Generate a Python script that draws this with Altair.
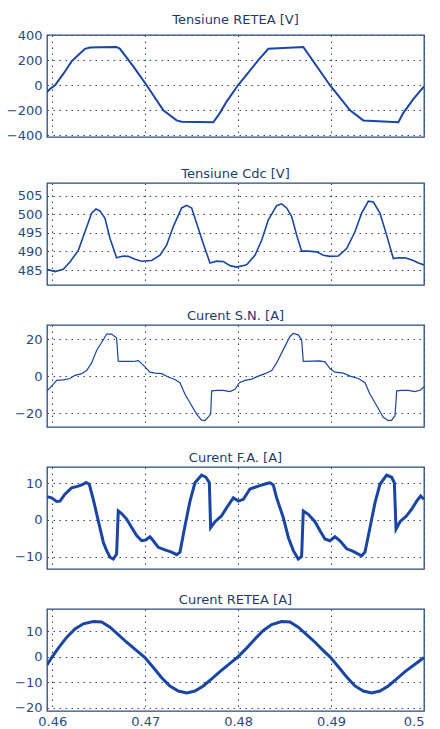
import altair as alt
import pandas as pd

# ---------------- data (time in s) ----------------
t_vretea = [0.45943, 0.45975, 0.46029, 0.46118, 0.46208, 0.46280, 0.46352, 0.46405, 0.46513,
            0.46692, 0.46728, 0.46872, 0.47015, 0.47195, 0.47338, 0.47392, 0.47733, 0.47804,
            0.47876, 0.47998, 0.48109, 0.48217, 0.48325, 0.48701, 0.48988, 0.49204, 0.49347,
            0.49724, 0.49778, 0.49885, 0.50000]
v_vretea = [-55, -30, 0, 90, 190, 240, 290, 300, 303,
            305, 290, 150, 0, -200, -280, -290, -295, -220,
            -130, 0, 100, 200, 290, 305, 0, -200, -280,
            -295, -220, -110, -10]

t_vdc = [0.45943, 0.46029, 0.46118, 0.46190, 0.46280, 0.46352, 0.46423, 0.46470, 0.46513, 0.46567,
         0.46621, 0.46692, 0.46764, 0.46818, 0.46890, 0.46961, 0.47069, 0.47159, 0.47230, 0.47302,
         0.47392, 0.47446, 0.47500, 0.47553, 0.47625, 0.47697, 0.47769, 0.47840, 0.47912, 0.47984,
         0.48091, 0.48181, 0.48253, 0.48325, 0.48414, 0.48468, 0.48522, 0.48576, 0.48630, 0.48683,
         0.48755, 0.48845, 0.48917, 0.48988, 0.49078, 0.49168, 0.49257, 0.49329, 0.49401, 0.49455,
         0.49526, 0.49598, 0.49670, 0.49724, 0.49796, 0.49885, 0.49939, 0.50000]
v_vdc = [485.2, 484.6, 485.2, 487.2, 490.3, 495.3, 500.3, 501.4, 500.9, 498.9,
         493.5, 488.3, 488.8, 488.7, 487.9, 487.4, 487.6, 489.0, 491.7, 496.7,
         501.7, 502.4, 501.7, 497.6, 492.1, 486.9, 487.4, 487.3, 486.2, 485.8,
         486.4, 489.0, 493.0, 498.5, 502.3, 502.8, 501.7, 499.4, 494.4, 490.1,
         490.1, 489.9, 489.0, 488.7, 488.8, 490.8, 495.3, 500.3, 503.5, 503.3,
         500.3, 494.4, 488.1, 488.3, 488.3, 487.6, 486.9, 486.4]

t_isn = [0.45943, 0.45993, 0.46047, 0.46118, 0.46190, 0.46244, 0.46316, 0.46370, 0.46423, 0.46477,
         0.46549, 0.46585, 0.46639, 0.46692, 0.46710, 0.46728, 0.46872, 0.46926, 0.46979, 0.47051,
         0.47105, 0.47177, 0.47248, 0.47320, 0.47374, 0.47428, 0.47500, 0.47553, 0.47607, 0.47643,
         0.47679, 0.47704, 0.47715, 0.47769, 0.47840, 0.47912, 0.47966, 0.48013, 0.48074, 0.48145,
         0.48217, 0.48289, 0.48361, 0.48414, 0.48486, 0.48558, 0.48594, 0.48647, 0.48683, 0.48701,
         0.48881, 0.48934, 0.48988, 0.49042, 0.49132, 0.49204, 0.49293, 0.49365, 0.49419, 0.49491,
         0.49562, 0.49616, 0.49652, 0.49688, 0.49706, 0.49760, 0.49831, 0.49903, 0.49964, 0.50000]
v_isn = [-8.0, -5.4, -2.3, -2.0, -1.3, 0.4, 1.3, 3.0, 7.1, 13.8,
         19.6, 22.7, 22.7, 20.5, 8.0, 7.9, 7.9, 8.4, 5.9, 2.1,
         1.6, 1.3, -0.5, -1.8, -3.6, -9.8, -16.0, -20.5, -23.8, -24.0,
         -22.0, -20.5, -8.0, -7.7, -7.7, -8.4, -7.1, -3.6, -2.3, -1.6,
         0.0, 1.3, 3.0, 7.1, 14.3, 21.4, 23.0, 22.3, 19.6, 8.0,
         8.2, 7.7, 4.1, 2.1, 1.6, 0.0, -1.3, -3.6, -9.8, -16.0,
         -22.3, -24.1, -23.8, -21.4, -8.0, -7.7, -7.7, -8.4, -7.5, -5.7]

t_ifa = [0.45943, 0.45993, 0.46047, 0.46083, 0.46136, 0.46208, 0.46280, 0.46334, 0.46362, 0.46398,
         0.46441, 0.46495, 0.46549, 0.46585, 0.46621, 0.46656, 0.46692, 0.46710, 0.46746, 0.46800,
         0.46854, 0.46908, 0.46961, 0.47004, 0.47051, 0.47087, 0.47141, 0.47213, 0.47284, 0.47338,
         0.47374, 0.47428, 0.47482, 0.47535, 0.47607, 0.47654, 0.47690, 0.47704, 0.47751, 0.47822,
         0.47876, 0.47948, 0.48002, 0.48056, 0.48127, 0.48217, 0.48307, 0.48343, 0.48378, 0.48414,
         0.48486, 0.48540, 0.48594, 0.48647, 0.48683, 0.48701, 0.48755, 0.48827, 0.48881, 0.48934,
         0.48988, 0.49042, 0.49096, 0.49168, 0.49239, 0.49329, 0.49365, 0.49419, 0.49473, 0.49526,
         0.49598, 0.49652, 0.49681, 0.49699, 0.49742, 0.49813, 0.49867, 0.49921, 0.49964, 0.50000]
v_ifa = [6.3, 6.0, 5.0, 5.1, 7.0, 8.7, 9.2, 9.7, 10.2, 9.7,
         5.6, -0.3, -6.1, -8.4, -10.2, -10.7, -9.3, 2.4, 1.7, 0.2,
         -2.1, -4.3, -5.7, -5.5, -4.6, -5.7, -7.5, -8.2, -8.8, -9.5,
         -8.8, -1.6, 5.1, 10.1, 12.2, 11.6, 10.1, -2.1, -0.5, 1.1,
         3.3, 6.0, 5.1, 5.6, 8.4, 9.2, 9.9, 10.1, 9.5, 6.0,
         0.6, -4.8, -8.4, -10.7, -10.0, 2.4, 1.5, -0.5, -3.0, -5.2,
         -5.7, -4.6, -5.7, -7.9, -8.6, -9.8, -8.8, -2.1, 4.7, 9.7,
         12.2, 11.6, 10.1, -2.5, -0.5, 1.1, 2.9, 5.1, 6.5, 5.6]

t_iretea = [0.45943, 0.45993, 0.46065, 0.46154, 0.46244, 0.46334, 0.46441, 0.46531, 0.46621, 0.46710,
            0.46800, 0.46908, 0.46997, 0.47087, 0.47177, 0.47266, 0.47356, 0.47446, 0.47535, 0.47625,
            0.47715, 0.47804, 0.47912, 0.47998, 0.48091, 0.48181, 0.48271, 0.48361, 0.48468, 0.48558,
            0.48647, 0.48737, 0.48827, 0.48917, 0.48988, 0.49078, 0.49168, 0.49257, 0.49347, 0.49437,
            0.49526, 0.49616, 0.49706, 0.49796, 0.49903, 0.50000]
v_iretea = [-3.2, -0.3, 3.4, 7.6, 10.9, 12.9, 13.8, 13.6, 11.6, 8.7,
            5.7, 2.4, -0.3, -4.2, -8.2, -11.4, -13.4, -14.1, -13.4, -11.4,
            -8.6, -5.8, -2.6, 0.0, 3.4, 7.0, 10.3, 12.6, 13.8, 13.6,
            11.6, 8.7, 5.7, 2.4, 0.0, -3.9, -7.9, -11.4, -13.4, -14.1,
            -13.4, -11.4, -8.6, -5.8, -2.9, -0.3]

titles = ["Tensiune RETEA [V]", "Tensiune Cdc [V]", "Curent S.N. [A]", "Curent F.A. [A]", "Curent RETEA [A]"]
y_domains = [[-412, 400], [481, 508.4], [-27.5, 27.6], [-13.4, 14.4], [-21.2, 18.7]]
y_ticks = [[-400, -200, 0, 200, 400], [485, 490, 495, 500, 505], [-20, 0, 20], [-10, 0, 10], [-20, -10, 0, 10]]
x_ticks = [0.46, 0.47, 0.48, 0.49, 0.5]
x_domain = [0.45943, 0.5]

series = [(t_vretea, v_vretea), (t_vdc, v_vdc), (t_isn, v_isn), (t_ifa, v_ifa), (t_iretea, v_iretea)]
widths = [2.0, 1.6, 1.2, 3.0, 3.0]

LINE = "#1a45a3"
AX = "#2a4a7c"
FONT = "DejaVu Sans"

panels = []
for i, ((tt, vv), title, dom, yt, sw) in enumerate(zip(series, titles, y_domains, y_ticks, widths)):
    last = i == len(series) - 1
    df = pd.DataFrame({"t": tt, "v": vv})
    xaxis = alt.Axis(values=x_ticks, grid=True, gridDash=[1.5, 4.5], gridColor=AX, gridWidth=1,
                     domain=False, ticks=False, labels=last, format=".2~f",
                     labelFont=FONT, labelFontSize=13, labelColor=AX, labelPadding=4, title=None)
    yaxis = alt.Axis(values=yt, grid=True, gridDash=[1.5, 4.5], gridColor=AX, gridWidth=1,
                     domain=False, ticks=False, labelFont=FONT, labelFontSize=13, labelColor=AX,
                     labelPadding=5, title=None)
    ch = alt.Chart(df).mark_line(color=LINE, strokeWidth=sw, clip=True).encode(
        x=alt.X("t:Q", scale=alt.Scale(domain=x_domain, nice=False, zero=False), axis=xaxis),
        y=alt.Y("v:Q", scale=alt.Scale(domain=dom, nice=False, zero=False), axis=yaxis),
        order="t:Q",
    ).properties(
        width=377, height=102,
        title=alt.TitleParams(title, font=FONT, fontSize=13, fontWeight="normal", color="#1f3a66",
                              anchor="middle", offset=2.5),
    )
    panels.append(ch)

chart = alt.vconcat(*panels, spacing=22).configure_view(
    stroke=AX, strokeWidth=1.3
).properties(padding={"left": 5, "top": 12, "right": 5, "bottom": 0})

chart.save("out.html", embed_options={"renderer": "svg", "actions": False})
